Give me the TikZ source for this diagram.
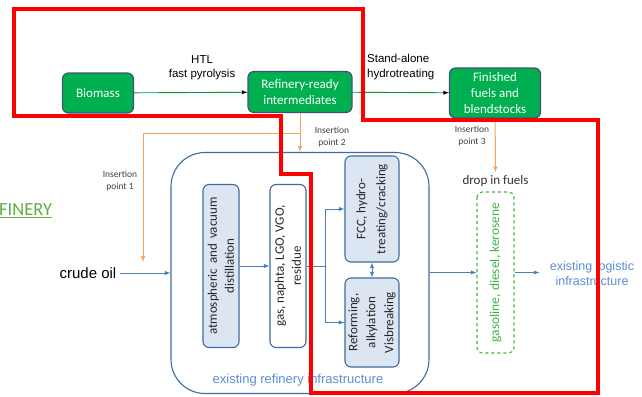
\documentclass[tikz,border=0pt]{standalone}
\usepackage{fontspec}
\setmainfont{Carlito}
\newfontfamily\arialf{Liberation Sans}
\usetikzlibrary{arrows}
\usetikzlibrary{positioning}
\tikzset{>=latex}
\definecolor{fillgreen}{HTML}{00B050}
\definecolor{edgeslate}{HTML}{3F5377}
\definecolor{flowblue}{HTML}{4A7EBB}
\definecolor{paleblue}{HTML}{DCE6F2}
\definecolor{insorange}{HTML}{F7A35C}
\definecolor{fuelgreen}{HTML}{3CB44B}
\definecolor{refgreen}{HTML}{5FAD41}
\definecolor{infoblue}{HTML}{5B8DD6}

\begin{document}
\begin{tikzpicture}[x=1pt, y=-1pt,
	greenbox/.style={draw=edgeslate, line width=1.2pt, fill=fillgreen, rounded corners=6pt, text=white, align=center, font=\fontsize{13}{16}\selectfont, inner sep=0pt},
	unitbox/.style={draw=flowblue!85!black, line width=1.1pt, rounded corners=6pt, rotate=90, align=center, text=black!85, font=\fontsize{13}{17}\selectfont, inner sep=0pt},
	flow/.style={->, draw=flowblue, line width=0.9pt},
	insert/.style={->, draw=insorange, line width=1pt},
	small/.style={font=\fontsize{9.5}{11.5}\selectfont, align=center, text=black!75},
	auto]
		\useasboundingbox (0,0) rectangle (642,396);
		% top row
		\node[greenbox, minimum width=71pt, minimum height=40pt] (bio) at (98,93) {Biomass};
		\node[greenbox, minimum width=104pt, minimum height=41pt] (rri) at (300,92) {Refinery-ready\\intermediates};
		\node[greenbox, minimum width=91pt, minimum height=50pt] (ffb) at (495,93) {Finished\\fuels and\\blendstocks};
		\path[->, draw=fillgreen!85!black, line width=0.9pt]
			(bio) edge node [above=9pt, pos=0.6, align=center, font=\arialf\fontsize{11.5}{14}\selectfont]{HTL\\fast pyrolysis} (rri)
			(rri) edge node [above=9pt, align=left, font=\arialf\fontsize{11.5}{15}\selectfont]{Stand-alone\\hydrotreating} (ffb);

		% refinery
		\node[draw=flowblue!85!black, line width=1.1pt, rounded corners=34pt, minimum width=258pt, minimum height=241pt] (ref) at (300,273) {};
		\node[text=infoblue, font=\arialf\fontsize{13}{15}\selectfont] (refl) at (298,380) {existing refinery infrastructure};
		\node[unitbox, fill=paleblue, minimum width=163pt, minimum height=36pt] (dist) at (221,266) {atmospheric\, and\, vacuum\\distillation};
		\node[unitbox, fill=white, minimum width=163pt, minimum height=36pt] (frac) at (288,266) {gas, naphta, LGO, VGO,\\residue};
		\node[unitbox, fill=paleblue, minimum width=106pt, minimum height=54pt, font=\fontsize{13}{20}\selectfont] (fcc) at (372,209) {FCC, hydro-\\treating/cracking};
		\node[unitbox, fill=paleblue, minimum width=89pt, minimum height=54pt, font=\fontsize{13}{18}\selectfont] (reform) at (372,322.5) {Reforming,\\alkylation\\Visbreaking};
		\coordinate (split) at (325,266);

		\node[font=\arialf\fontsize{15}{18}\selectfont] (crude) at (88,273) {crude oil};
		\node[font=\fontsize{18.5}{20}\selectfont, text=refgreen, anchor=west, inner sep=0pt] (finery) at (-1,211) {\underline{FINERY}};

		% drop in fuels
		\node[draw=fuelgreen, dashed, line width=1.1pt, rounded corners=5pt, rotate=90, minimum width=161pt, minimum height=37pt, inner sep=0pt, text=fuelgreen, font=\fontsize{13.5}{16}\selectfont] (fuels) at (495.5,272.5) {gasoline, diesel, kerosene};
		\node[font=\fontsize{13}{16}\selectfont, text=black!80] (dropl) [above=1pt of fuels.east] {drop in fuels};
		\node[text=infoblue, align=center, font=\arialf\fontsize{12.5}{15}\selectfont] (logi) at (592,274) {existing logistic\\infrastructure};

		\draw[flow] (crude) -- (ref);
		\draw[flow] (dist) -- (frac);
		\draw[flow, -] (frac) -- (split);
		\draw[flow] (split) |- (fcc);
		\draw[flow] (split) |- (reform);
		\draw[flow, <->] (fcc) -- (reform);
		\draw[flow] (ref.east |- fuels) -- (fuels);
		\draw[flow] (fuels) -- ([xshift=-7pt]logi.west |- fuels);

		% insertion points
		\coordinate (tee) at (300,133);
		\coordinate (ins1) at (143,262);
		\draw[insert] (rri) -- (rri |- ref.north);
		\draw[insert] (tee) -| (ins1);
		\draw[insert] (ffb) -- (dropl);
		\node[small] (ip1) at (120,181) {Insertion\\point 1};
		\node[small] (ip2) at (332,137) {Insertion\\point 2};
		\node[small] (ip3) at (472,136) {Insertion\\point 3};

		% red outline
		\draw[red, line width=3.5pt, line join=miter] (14,9) -- (363,9) -- (363,120) -- (598,120) -- (598,393) -- (311,393) -- (311,174) -- (281,174) -- (281,116) -- (14,116) -- cycle;
	\end{tikzpicture}
\end{document}
